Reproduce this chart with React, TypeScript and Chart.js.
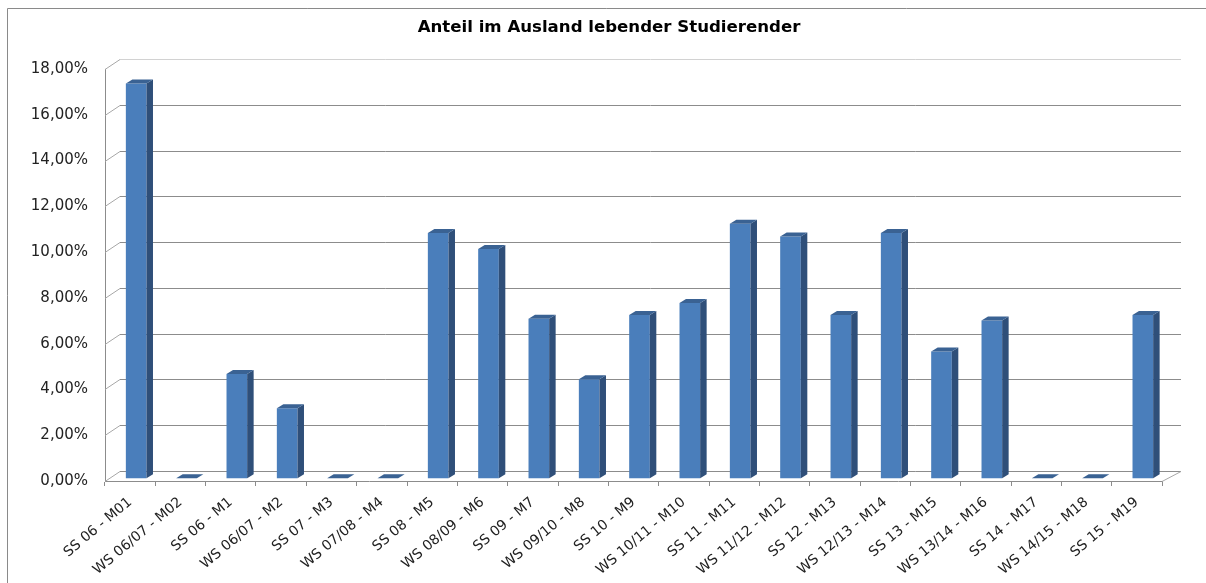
import React, { useEffect, useRef } from 'react';
import { Chart, registerables } from 'chart.js';

Chart.register(...registerables);

const chartTitle = 'Anteil im Ausland lebender Studierender';

const categories = [
  'SS 06 - M01', 'WS 06/07 - M02', 'SS 06 - M1', 'WS 06/07 - M2', 'SS 07 - M3',
  'WS 07/08 - M4', 'SS 08 - M5', 'WS 08/09 - M6', 'SS 09 - M7', 'WS 09/10 - M8',
  'SS 10 - M9', 'WS 10/11 - M10', 'SS 11 - M11', 'WS 11/12 - M12', 'SS 12 - M13',
  'WS 12/13 - M14', 'SS 13 - M15', 'WS 13/14 - M16', 'SS 14 - M17', 'WS 14/15 - M18',
  'SS 15 - M19',
];

const shares = [
  17.25, 0, 4.56, 3.06, 0,
  0, 10.72, 10.02, 6.97, 4.33,
  7.14, 7.66, 11.12, 10.57, 7.14,
  10.72, 5.54, 6.89, 0, 0,
  7.14,
];

const yTicks = [0, 2, 4, 6, 8, 10, 12, 14, 16, 18];

const FRONT = '#4a7ebb';
const SIDE = '#2f4f79';
const TOP = '#3a6293';
const GRID = '#8c8c8c';
const FONT = 'DejaVu Sans';

const frame3d = {
  id: 'frame3d',
  beforeDraw(chart: any) {
    const ctx = chart.ctx;
    ctx.save();
    ctx.fillStyle = '#ffffff';
    ctx.fillRect(0, 0, chart.width, chart.height);
    ctx.strokeStyle = '#8a8a8a';
    ctx.lineWidth = 1;
    ctx.beginPath();
    ctx.moveTo(7.5, chart.height);
    ctx.lineTo(7.5, 8.5);
    ctx.lineTo(chart.width, 8.5);
    ctx.stroke();
    ctx.restore();
  },
  beforeDatasetsDraw(chart: any) {
    const ctx = chart.ctx;
    const a = chart.chartArea;
    const y = chart.scales.y;
    const dxL = 15, dxR = 19, dy = 10;
    ctx.save();
    ctx.lineWidth = 1;
    yTicks.forEach((v) => {
      const py = Math.round(y.getPixelForValue(v)) + 0.5;
      ctx.strokeStyle = v === yTicks[yTicks.length - 1] ? '#d2d2d2' : GRID;
      ctx.beginPath();
      ctx.moveTo(a.left + dxL, py - dy);
      ctx.lineTo(a.right + dxR, py - dy);
      ctx.stroke();
      ctx.strokeStyle = '#a8a8a8';
      ctx.beginPath();
      ctx.moveTo(a.left, py);
      ctx.lineTo(a.left + dxL, py - dy);
      ctx.stroke();
    });
    const by = Math.round(y.getPixelForValue(0)) + 0.5;
    ctx.strokeStyle = '#a8a8a8';
    ctx.beginPath();
    ctx.moveTo(a.right, by);
    ctx.lineTo(a.right + dxR, by - dy);
    ctx.stroke();
    ctx.restore();
    ctx.save();
    ctx.translate(6, -2.7);
  },
  afterDatasetsDraw(chart: any) {
    const ctx = chart.ctx;
    const meta = chart.getDatasetMeta(0);
    const sx = 6.5, sy = 4;
    meta.data.forEach((bar: any) => {
      const p = bar.getProps(['x', 'y', 'base', 'width'], true);
      const x1 = p.x - p.width / 2;
      const x2 = p.x + p.width / 2;
      ctx.fillStyle = SIDE;
      ctx.beginPath();
      ctx.moveTo(x2, p.y);
      ctx.lineTo(x2 + sx, p.y - sy);
      ctx.lineTo(x2 + sx, p.base - sy);
      ctx.lineTo(x2, p.base);
      ctx.closePath();
      ctx.fill();
      ctx.fillStyle = TOP;
      ctx.beginPath();
      ctx.moveTo(x1, p.y);
      ctx.lineTo(x1 + sx, p.y - sy);
      ctx.lineTo(x2 + sx, p.y - sy);
      ctx.lineTo(x2, p.y);
      ctx.closePath();
      ctx.fill();
    });
    ctx.restore();
  },
};

export default function App() {
  const canvasRef = useRef<HTMLCanvasElement | null>(null);

  useEffect(() => {
    if (!canvasRef.current) return;
    const chart = new Chart(canvasRef.current, {
      type: 'bar',
      data: {
        labels: categories,
        datasets: [
          {
            label: chartTitle,
            data: shares,
            backgroundColor: FRONT,
            borderWidth: 0,
            barPercentage: 0.41,
            categoryPercentage: 1,
            clip: false as any,
          },
        ],
      },
      options: {
        responsive: false,
        animation: false,
        layout: { padding: { left: 12, right: 0, top: 0, bottom: 0 } },
        plugins: {
          legend: { display: false },
          tooltip: { enabled: false },
          title: {
            display: true,
            text: chartTitle,
            color: '#000000',
            font: { family: FONT, size: 16.6, weight: 'bold', lineHeight: 1.2 },
            padding: { top: 17.5, bottom: 31.6 },
          },
        },
        scales: {
          x: {
            grid: {
              display: true,
              drawOnChartArea: false,
              drawTicks: true,
              tickLength: 5,
              color: GRID,
              offset: true,
            },
            border: { display: true, color: GRID },
            ticks: {
              autoSkip: false,
              minRotation: 40,
              maxRotation: 40,
              padding: 8,
              color: '#222222',
              font: { family: FONT, size: 14 },
            },
            afterFit(scale: any) {
              scale.height = 102;
            },
          },
          y: {
            min: 0,
            max: 18,
            grid: { display: false },
            border: { display: true, color: GRID },
            ticks: {
              stepSize: 2,
              padding: 9,
              color: '#222222',
              font: { family: FONT, size: 15 },
              callback: (v: any) => `${Number(v).toFixed(2).replace('.', ',')}%`,
            },
            afterFit(scale: any) {
              scale.width = 93;
            },
          },
          y2: {
            position: 'right',
            min: 0,
            max: 18,
            grid: { display: false },
            border: { display: false },
            ticks: { display: false },
            afterFit(scale: any) {
              scale.width = 44;
            },
          },
        },
      },
      plugins: [frame3d],
    });
    return () => chart.destroy();
  }, []);

  return (
    <div style={{ position: 'fixed', left: 0, top: 0, width: 1206, height: 583, background: '#fff' }}>
      <canvas ref={canvasRef} width={1206} height={583} style={{ display: 'block' }} />
    </div>
  );
}
